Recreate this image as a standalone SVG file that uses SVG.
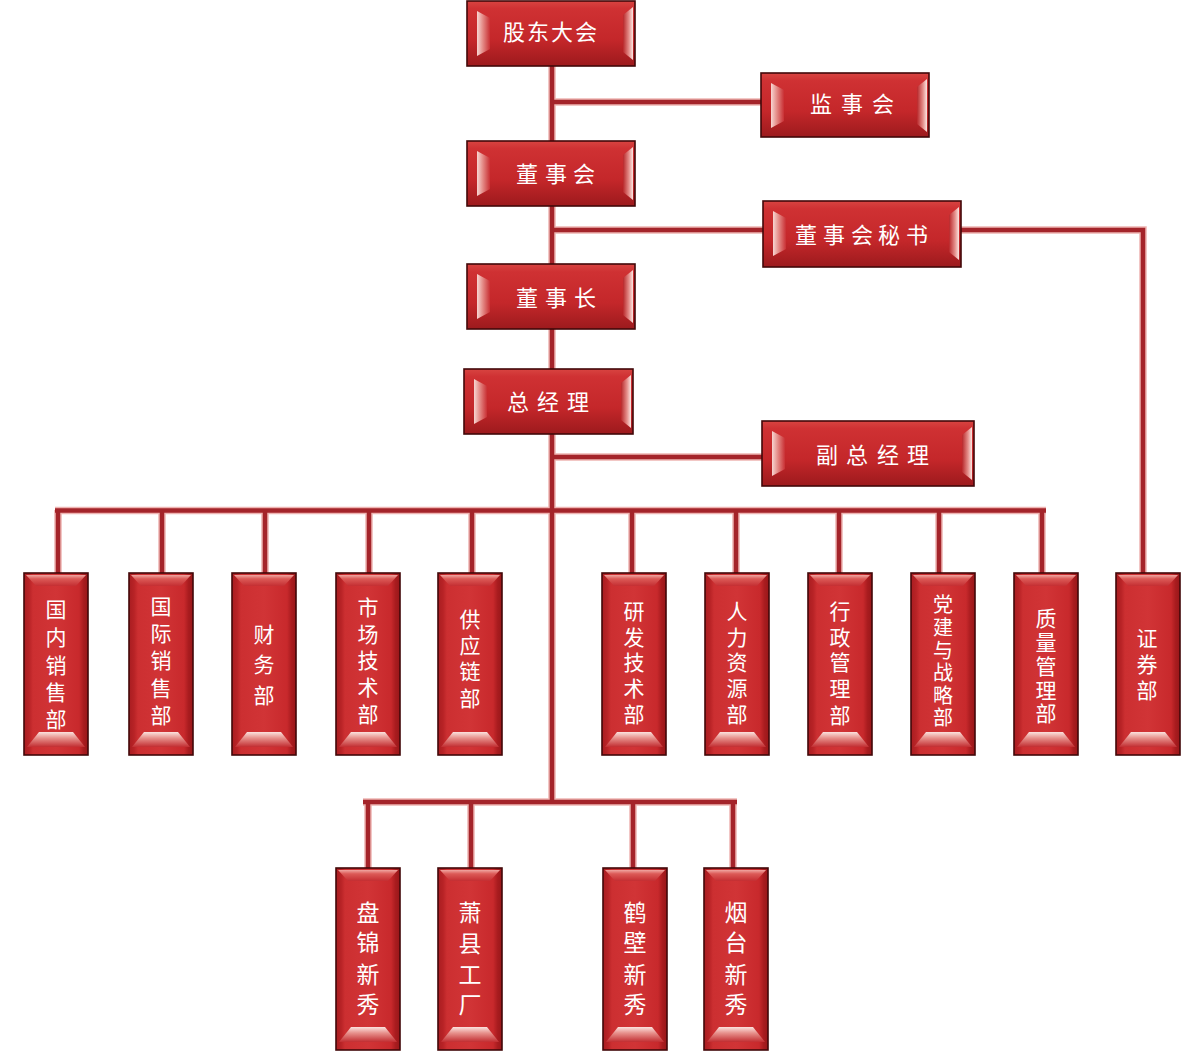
<svg xmlns="http://www.w3.org/2000/svg" xmlns:xlink="http://www.w3.org/1999/xlink" width="1200" height="1051" viewBox="0 0 1200 1051">
<style>
.pipeo{fill:none;stroke:#eeb4b2;stroke-width:7.5;stroke-linecap:butt}
.pipe{fill:none;stroke:#a4242a;stroke-width:4.5;stroke-linecap:butt}
.hface{fill:url(#gFaceH);stroke:#420809;stroke-width:1.6}
.vface{fill:url(#gFaceV);stroke:#420809;stroke-width:1.6}
.t{font-family:"Noto Sans CJK SC","Noto Sans",sans-serif;fill:#ffffff;text-anchor:middle}
.th{font-size:22px}
.tv{font-size:21px}
.tb{font-size:23px}
</style>
<defs>
<linearGradient id="gFaceH" x1="0" y1="0" x2="0" y2="1">
<stop offset="0" stop-color="#d84441"/>
<stop offset="0.12" stop-color="#cf3133"/>
<stop offset="0.6" stop-color="#c4272a"/>
<stop offset="1" stop-color="#9c1a1d"/>
</linearGradient>
<linearGradient id="gFaceV" x1="0" y1="0" x2="1" y2="0">
<stop offset="0" stop-color="#a91d21"/>
<stop offset="0.08" stop-color="#b82326"/>
<stop offset="0.14" stop-color="#cc2f31"/>
<stop offset="0.5" stop-color="#d13436"/>
<stop offset="0.86" stop-color="#c8292c"/>
<stop offset="0.93" stop-color="#a91c1f"/>
<stop offset="1" stop-color="#981719"/>
</linearGradient>
<linearGradient id="gBevL" x1="0" y1="0" x2="1" y2="0">
<stop offset="0" stop-color="#f7d6d2"/>
<stop offset="0.45" stop-color="#e48a86"/>
<stop offset="1" stop-color="#c93034"/>
</linearGradient>
<linearGradient id="gBevR" x1="0" y1="0" x2="1" y2="0">
<stop offset="0" stop-color="#b8272a"/>
<stop offset="0.6" stop-color="#e58f8b"/>
<stop offset="1" stop-color="#fbe6e2"/>
</linearGradient>
<linearGradient id="gBevT" x1="0" y1="0" x2="0" y2="1">
<stop offset="0" stop-color="#f0a6a1"/>
<stop offset="0.35" stop-color="#dc5a57"/>
<stop offset="1" stop-color="#c42e32"/>
</linearGradient>
<linearGradient id="gBevB" x1="0" y1="0" x2="0" y2="1">
<stop offset="0" stop-color="#fbe2de"/>
<stop offset="0.4" stop-color="#e7918c"/>
<stop offset="1" stop-color="#c22d31"/>
</linearGradient>
<g id="vbox">
<rect class="vface" x="0" y="0" width="64" height="182"/>
<polygon points="2,2 62,2 52,13 12,13" fill="url(#gBevT)"/>
<polygon points="15,159 49,159 61,174 3,174" fill="url(#gBevB)"/>
</g>
<polygon id="bevL" points="10,10 23,17 23,48 10,55" fill="url(#gBevL)"/>
<polygon id="bevR" points="-2,6 -12,14 -12,51 -2,59" fill="url(#gBevR)"/>
</defs>

<g id="connectors">
<g class="pipeo">
<path d="M552 60 V802"/>
<path d="M552 102 H762"/>
<path d="M552 230 H764"/>
<path d="M960 230 H1143 V574"/>
<path d="M552 457 H763"/>
<path d="M55 510.5 H1046"/>
<path d="M58 510 V574 M162 510 V574 M265 510 V574 M369 510 V574 M472 510 V574 M632 510 V574 M736 510 V574 M839 510 V574 M939 510 V574 M1042 510 V574"/>
<path d="M363 802 H737"/>
<path d="M368 802 V869 M471 802 V869 M633 802 V869 M733 802 V869"/>
</g>
<g class="pipe">
<path d="M552 60 V802"/>
<path d="M552 102 H762"/>
<path d="M552 230 H764"/>
<path d="M960 230 H1143 V574"/>
<path d="M552 457 H763"/>
<path d="M55 510.5 H1046"/>
<path d="M58 510 V574 M162 510 V574 M265 510 V574 M369 510 V574 M472 510 V574 M632 510 V574 M736 510 V574 M839 510 V574 M939 510 V574 M1042 510 V574"/>
<path d="M363 802 H737"/>
<path d="M368 802 V869 M471 802 V869 M633 802 V869 M733 802 V869"/>
</g>
</g>

<g id="n-gudong">
<rect class="hface" x="467" y="1" width="168" height="65"/>
<use href="#bevL" x="467" y="1"/>
<use href="#bevR" x="635" y="1"/>
<text class="t th" x="514 538 562 586" y="40">股东大会</text>
</g>
<g id="n-jianshi">
<rect class="hface" x="761" y="73" width="168" height="64"/>
<use href="#bevL" x="761" y="73"/>
<use href="#bevR" x="929" y="73"/>
<text class="t th" x="821 852 883" y="112">监事会</text>
</g>
<g id="n-dongshihui">
<rect class="hface" x="467" y="141" width="168" height="65"/>
<use href="#bevL" x="467" y="141"/>
<use href="#bevR" x="635" y="141"/>
<text class="t th" x="527 556 584" y="182">董事会</text>
</g>
<g id="n-mishu">
<rect class="hface" x="763" y="201" width="198" height="66"/>
<use href="#bevL" x="763" y="201"/>
<use href="#bevR" x="961" y="201"/>
<text class="t th" x="806 834 862 889 917" y="243">董事会秘书</text>
</g>
<g id="n-dongshizhang">
<rect class="hface" x="467" y="264" width="168" height="65"/>
<use href="#bevL" x="467" y="264"/>
<use href="#bevR" x="635" y="264"/>
<text class="t th" x="527 556 585" y="306">董事长</text>
</g>
<g id="n-zongjingli">
<rect class="hface" x="464" y="369" width="169" height="65"/>
<use href="#bevL" x="464" y="369"/>
<use href="#bevR" x="633" y="369"/>
<text class="t th" x="518 548 578" y="410">总经理</text>
</g>
<g id="n-fuzong">
<rect class="hface" x="762" y="421" width="212" height="65"/>
<use href="#bevL" x="762" y="421"/>
<use href="#bevR" x="974" y="421"/>
<text class="t th" x="827 857 888 918" y="463">副总经理</text>
</g>

<g id="n-guonei">
<use href="#vbox" x="24" y="573"/>
<text class="t tv" x="56 56 56 56 56" y="617 645 673 700 727">国内销售部</text>
</g>
<g id="n-guoji">
<use href="#vbox" x="129" y="573"/>
<text class="t tv" x="161 161 161 161 161" y="614 641 668 696 723">国际销售部</text>
</g>
<g id="n-caiwu">
<use href="#vbox" x="232" y="573"/>
<text class="t tv" x="264 264 264" y="642 672 703">财务部</text>
</g>
<g id="n-shichang">
<use href="#vbox" x="336" y="573"/>
<text class="t tv" x="368 368 368 368 368" y="615 642 668 695 722">市场技术部</text>
</g>
<g id="n-gongying">
<use href="#vbox" x="438" y="573"/>
<text class="t tv" x="470 470 470 470" y="627 653 679 706">供应链部</text>
</g>
<g id="n-yanfa">
<use href="#vbox" x="602" y="573"/>
<text class="t tv" x="634 634 634 634 634" y="619 645 670 696 722">研发技术部</text>
</g>
<g id="n-renli">
<use href="#vbox" x="705" y="573"/>
<text class="t tv" x="737 737 737 737 737" y="619 645 670 696 722">人力资源部</text>
</g>
<g id="n-xingzheng">
<use href="#vbox" x="808" y="573"/>
<text class="t tv" x="840 840 840 840 840" y="619 645 670 696 723">行政管理部</text>
</g>
<g id="n-dangjian">
<use href="#vbox" x="911" y="573"/>
<text class="t" style="font-size:20px" x="943 943 943 943 943 943" y="612 635 658 680 703 725">党建与战略部</text>
</g>
<g id="n-zhiliang">
<use href="#vbox" x="1014" y="573"/>
<text class="t tv" x="1046 1046 1046 1046 1046" y="626 650 674 698 721">质量管理部</text>
</g>
<g id="n-zhengquan">
<use href="#vbox" x="1116" y="573"/>
<text class="t tv" x="1147 1147 1147" y="646 672 698">证券部</text>
</g>

<g id="n-panjin">
<use href="#vbox" x="336" y="868"/>
<text class="t tb" x="368 368 368 368" y="921 951 983 1013">盘锦新秀</text>
</g>
<g id="n-xiaoxian">
<use href="#vbox" x="438" y="868"/>
<text class="t tb" x="470 470 470 470" y="921 952 983 1013">萧县工厂</text>
</g>
<g id="n-hebi">
<use href="#vbox" x="603" y="868"/>
<text class="t tb" x="635 635 635 635" y="921 951 983 1013">鹤壁新秀</text>
</g>
<g id="n-yantai">
<use href="#vbox" x="704" y="868"/>
<text class="t tb" x="736 736 736 736" y="921 951 983 1013">烟台新秀</text>
</g>
</svg>
